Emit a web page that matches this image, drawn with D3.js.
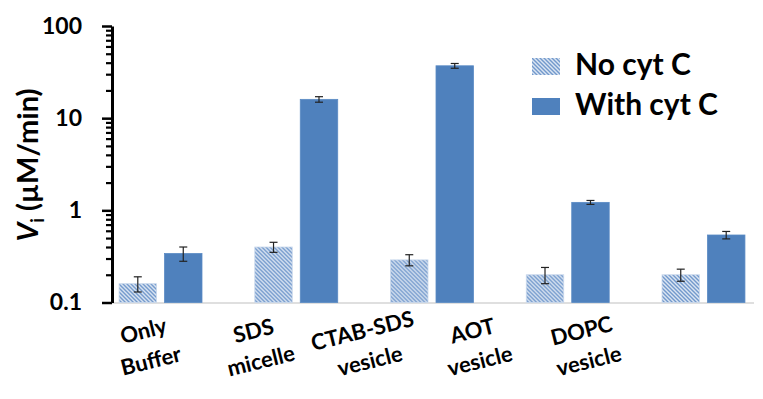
<!DOCTYPE html>
<html>
<head>
<meta charset="utf-8">
<script src="https://cdn.jsdelivr.net/npm/d3@7"></script>
<style>
  html, body { margin: 0; padding: 0; background: #fff; }
  #wrap { position: relative; width: 763px; height: 399px; }
  svg { display: block; font-family: Lato, "Open Sans", sans-serif; }
  .xlab { position: absolute; font-family: Lato, sans-serif; font-weight: 700; font-size: 22px;
          line-height: 31px; text-align: center; white-space: nowrap; color: #000;
          transform: translate(-50%, -50%) rotate(-14deg); }
</style>
</head>
<body>
<div id="wrap"><svg id="chart" width="763" height="399"></svg></div>
<script>
// Initial rate V_i (µM/min) per membrane-mimetic system, with and without cyt C
const categories = ["Only Buffer", "SDS micelle", "CTAB-SDS vesicle", "AOT vesicle", "DOPC vesicle"];
const categoryLines = [["Only", "Buffer"], ["SDS", "micelle"], ["CTAB-SDS", "vesicle"], ["AOT", "vesicle"], ["DOPC", "vesicle"]];
const seriesNames = ["No cyt C", "With cyt C"];
const noCyt = [0.16, 0.40, 0.29, 0.20, 0.20];
const noCytErr = [0.03, 0.05, 0.04, 0.04, 0.03];
const withCyt = [0.34, 16, 37, 1.22, 0.54];
const withCytErr = [0.06, 1.1, 2.2, 0.06, 0.05];
const yTickValues = [0.1, 1, 10, 100];
const yTickLabels = ["0.1", "1", "10", "100"];

const svg = d3.select("#chart");
const blue = "#4f81bd";

// hatch pattern for the "No cyt C" series
const defs = svg.append("defs");
const pat = defs.append("pattern")
  .attr("id", "hatch")
  .attr("patternUnits", "userSpaceOnUse")
  .attr("width", 4).attr("height", 4);
pat.append("rect").attr("width", 4).attr("height", 4).attr("fill", "#dbe5f2");
pat.append("path")
  .attr("d", "M-1,-1 L5,5 M-1,3 L1,5 M3,-1 L5,1")
  .attr("stroke", "#7299cc").attr("stroke-width", 1.4);

const axisX = 112;
const y = d3.scaleLog().domain([0.1, 100]).range([302.5, 26]);

const x0 = d3.scaleBand().domain(categories).range([axisX, 752])
  .paddingInner(0.389).paddingOuter(0.052);
const x1 = d3.scaleBand().domain(seriesNames).range([0, x0.bandwidth()])
  .paddingInner(0.176).paddingOuter(0);

const rows = categories.map((c, i) => ({
  cat: c,
  vals: [
    { s: seriesNames[0], v: noCyt[i], e: noCytErr[i] },
    { s: seriesNames[1], v: withCyt[i], e: withCytErr[i] }
  ]
}));

// x axis baseline
svg.append("line")
  .attr("x1", axisX).attr("x2", 754)
  .attr("y1", y(0.1) + 0.5).attr("y2", y(0.1) + 0.5)
  .attr("stroke", "#bfbfbf").attr("stroke-width", 1.2);

// bars
const groups = svg.append("g").selectAll("g").data(rows).join("g")
  .attr("transform", d => `translate(${x0(d.cat)},0)`);

groups.selectAll("rect").data(d => d.vals).join("rect")
  .attr("x", d => x1(d.s))
  .attr("width", x1.bandwidth())
  .attr("y", d => y(d.v))
  .attr("height", d => y(0.1) - y(d.v))
  .attr("fill", (d, i) => i === 0 ? "url(#hatch)" : blue)
  .attr("stroke", (d, i) => i === 0 ? "#c9d8ec" : "#5a8ac4")
  .attr("stroke-width", 0.8);

// error bars
const eb = groups.selectAll("g.err").data(d => d.vals).join("g").attr("class", "err")
  .attr("transform", d => `translate(${x1(d.s) + x1.bandwidth() / 2},0)`);
eb.append("line")
  .attr("y1", d => y(d.v + d.e)).attr("y2", d => y(d.v - d.e))
  .attr("stroke", "#222").attr("stroke-width", 1.2);
eb.selectAll("line.cap").data(d => [d.v + d.e, d.v - d.e]).join("line")
  .attr("class", "cap")
  .attr("x1", -4).attr("x2", 4)
  .attr("y1", v => y(v)).attr("y2", v => y(v))
  .attr("stroke", "#222").attr("stroke-width", 1.2);

// y axis with major and minor log ticks
const minorTicks = y.ticks().filter(t => !yTickValues.includes(t));
const yAxisMinor = d3.axisLeft(y).tickValues(minorTicks).tickSize(6).tickFormat("");
svg.append("g").attr("transform", `translate(${axisX},0)`).call(yAxisMinor)
  .call(g => g.select(".domain").remove())
  .call(g => g.selectAll("line").attr("stroke", "#000").attr("stroke-width", 2.2));

const yAxis = d3.axisLeft(y).tickValues(yTickValues).tickSize(10).tickSizeOuter(0)
  .tickPadding(20)
  .tickFormat((d, i) => yTickLabels[i]);
svg.append("g").attr("transform", `translate(${axisX},0)`).call(yAxis)
  .call(g => g.select(".domain").attr("stroke", "#000").attr("stroke-width", 3))
  .call(g => g.selectAll(".tick line").attr("stroke", "#000").attr("stroke-width", 2.5))
  .call(g => g.selectAll("text")
    .attr("font-family", "Lato, sans-serif")
    .attr("font-size", 23).attr("font-weight", 700).attr("fill", "#000"));

// y axis title
const yt = svg.append("text")
  .attr("transform", "translate(38,165) rotate(-90)")
  .attr("text-anchor", "middle")
  .attr("font-size", 29).attr("font-weight", 700).attr("fill", "#000");
yt.append("tspan").attr("font-style", "italic").text("V");
yt.append("tspan").attr("font-size", 18).attr("dy", 6).text("i");
yt.append("tspan").attr("dy", -6).text(" (\u00b5M/min)");

// category labels: one tilted two-line block per category
const labelX = d3.scalePoint().domain(categories).range([147, 585]);
d3.select("#wrap").selectAll("div.xlab").data(categories).join("div")
  .attr("class", "xlab")
  .style("left", d => labelX(d) + "px")
  .style("top", "345px")
  .html((d, i) => categoryLines[i].join("<br>"));

// legend
const legend = svg.append("g").selectAll("g").data(seriesNames).join("g")
  .attr("transform", (d, i) => `translate(532,${58 + i * 40})`);
legend.append("rect")
  .attr("width", 28).attr("height", 17)
  .attr("fill", (d, i) => i === 0 ? "url(#hatch)" : blue);
legend.append("text")
  .attr("x", 43).attr("y", 17)
  .attr("font-size", 30).attr("font-weight", 700).attr("fill", "#000")
  .text(d => d);
</script>
</body>
</html>
